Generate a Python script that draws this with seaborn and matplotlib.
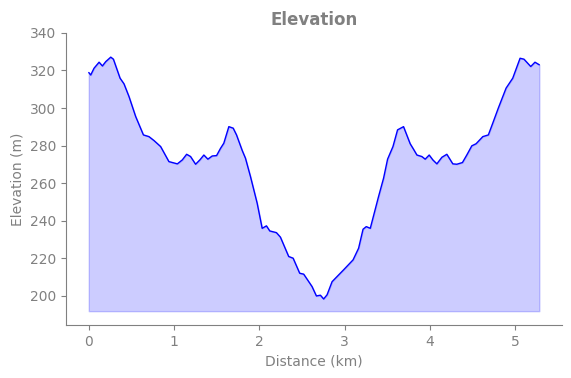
import numpy as np
import seaborn as sns
import matplotlib.pyplot as plt

# distance along the route (km) and elevation (m)
distance = [0.000, 0.023, 0.062, 0.121, 0.160, 0.199, 0.258, 0.289, 0.367, 0.413,
            0.472, 0.550, 0.641, 0.706, 0.765, 0.843, 0.940, 1.039, 1.097, 1.148,
            1.194, 1.253, 1.303, 1.350, 1.397, 1.448, 1.499, 1.546, 1.584, 1.643,
            1.694, 1.733, 1.800, 1.838, 1.897, 1.975, 2.034, 2.084, 2.123, 2.201,
            2.248, 2.345, 2.397, 2.474, 2.521, 2.619, 2.670, 2.717, 2.755, 2.795,
            2.854, 2.931, 2.989, 3.100, 3.165, 3.217, 3.255, 3.302, 3.399, 3.458,
            3.505, 3.568, 3.622, 3.692, 3.770, 3.809, 3.849, 3.907, 3.946, 3.993,
            4.036, 4.083, 4.142, 4.200, 4.270, 4.317, 4.383, 4.434, 4.493, 4.543,
            4.622, 4.687, 4.739, 4.804, 4.895, 4.973, 5.059, 5.105, 5.184, 5.234,
            5.285]
elevation = [318.9, 317.6, 321.2, 324.4, 322.4, 324.7, 327.1, 326.0, 315.9, 312.9,
             306.1, 295.5, 285.7, 284.8, 282.7, 279.5, 271.5, 270.3, 272.4, 275.4,
             274.2, 270.1, 272.4, 275.0, 272.8, 274.5, 274.7, 278.6, 281.3, 290.1,
             289.3, 285.7, 277.4, 273.3, 263.5, 249.4, 236.0, 237.3, 234.6, 233.7,
             231.3, 221.0, 220.1, 212.1, 211.6, 205.0, 200.0, 200.4, 198.4, 200.6,
             207.6, 211.2, 213.9, 219.2, 225.4, 235.5, 236.9, 236.0, 252.9, 262.7,
             272.8, 279.5, 288.4, 290.1, 281.0, 278.1, 275.0, 274.2, 272.8, 275.0,
             272.4, 270.3, 273.8, 275.4, 270.3, 270.1, 271.0, 275.0, 279.9, 281.0,
             284.8, 285.7, 292.0, 300.0, 310.6, 315.9, 326.5, 326.0, 322.1, 324.4,
             323.0]

sns.set_style("ticks")
plt.rcParams['font.family'] = ['DejaVu Sans']
grey = '#808080'

fig, ax = plt.subplots(figsize=(5.71, 3.78), dpi=100)
fig.subplots_adjust(left=0.116, right=0.984, top=0.913, bottom=0.140)

base = min(elevation) - 6.5
ax.fill_between(distance, elevation, base, color='blue', alpha=0.2)
sns.lineplot(x=distance, y=elevation, color='blue', linewidth=1, ax=ax)

ax.set_ylim(184.5, 340)
ax.set_yticks(np.arange(200, 341, 20))
ax.set_title('Elevation', fontsize=12, fontweight='bold', color=grey)
ax.set_xlabel('Distance (km)', color=grey)
ax.set_ylabel('Elevation (m)', color=grey)
ax.tick_params(colors=grey, labelcolor=grey)
for s in ax.spines.values():
    s.set_color(grey)
sns.despine(ax=ax)

fig.savefig('out.png', dpi=100)
